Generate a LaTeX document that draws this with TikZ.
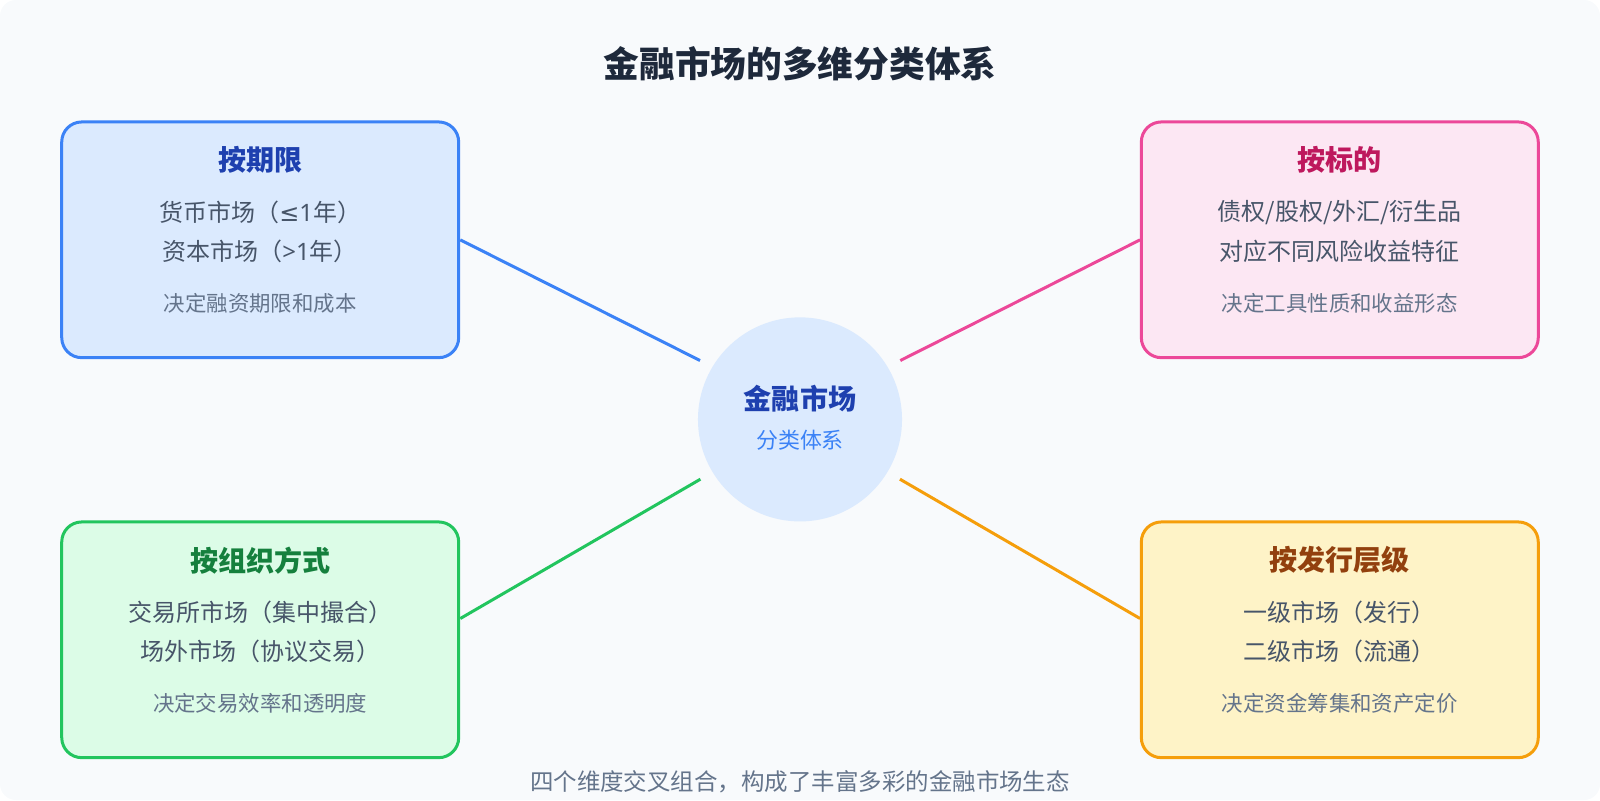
\documentclass[tikz,border=0pt]{standalone}
\usepackage{fontspec}
\setmainfont{Noto Sans CJK SC}
\newfontfamily\latinfont{Noto Sans}
\newfontfamily\symfont{DejaVu Sans}
\definecolor{bgc}{HTML}{F8FAFC}
\definecolor{ink}{HTML}{1E293B}
\definecolor{txt}{HTML}{475569}
\definecolor{muted}{HTML}{64748B}
\definecolor{blueline}{HTML}{3B82F6}
\definecolor{bluefill}{HTML}{DBEAFE}
\definecolor{bluehead}{HTML}{1E40AF}
\definecolor{pinkline}{HTML}{EC4899}
\definecolor{pinkfill}{HTML}{FCE7F3}
\definecolor{pinkhead}{HTML}{BE185D}
\definecolor{greenline}{HTML}{22C55E}
\definecolor{greenfill}{HTML}{DCFCE7}
\definecolor{greenhead}{HTML}{15803D}
\definecolor{orangeline}{HTML}{F59E0B}
\definecolor{orangefill}{HTML}{FEF3C7}
\definecolor{orangehead}{HTML}{92400E}
\begin{document}
\begin{tikzpicture}[x=1pt,y=-1pt,scale=1.0204,transform shape,
    card/.style={draw,line width=3pt,rounded corners=20pt,
      minimum width=389pt,minimum height=231pt,inner sep=0pt},
    head/.style={font=\fontsize{27.5}{31}\selectfont\bfseries},
    item/.style={font=\fontsize{23.5}{27}\selectfont,text=txt},
    note/.style={font=\fontsize{21}{24}\selectfont,text=muted},
    link/.style={line width=3pt,shorten >=14pt}]
  \useasboundingbox (0,0) rectangle (1568,784);
  \fill[bgc,rounded corners=16pt] (0,0) rectangle (1568,784);
  \draw
    (784,62) node (title)[font=\fontsize{35}{39}\selectfont\bfseries,text=ink]{金融市场的多维分类体系}
    (784,411) node (hub)[circle,fill=bluefill,minimum size=200pt,inner sep=0pt]{}
    (255,235) node (tl)[card,draw=blueline,fill=bluefill]{}
    (1313,235) node (tr)[card,draw=pinkline,fill=pinkfill]{}
    (255,627) node (bl)[card,draw=greenline,fill=greenfill]{}
    (1313,627) node (br)[card,draw=orangeline,fill=orangefill]{};
  \draw
    (784,391) node (hubhead)[head,text=bluehead]{金融市场}
    (784,431) node (hubsub)[font=\fontsize{21.5}{25}\selectfont,text=blueline]{分类体系}
    (255,157) node (tlhead)[head,text=bluehead]{按期限}
    (255,208) node (tl1)[item]{货币市场（{\symfont ≤}{\latinfont 1}年）}
    (255,246) node (tl2)[item]{资本市场（{\latinfont >1}年）}
    (255,297) node (tlnote)[note]{决定融资期限和成本}
    (1313,157) node (trhead)[head,text=pinkhead]{按标的}
    (1313,208) node (tr1)[item]{债权/股权/外汇/衍生品}
    (1313,246) node (tr2)[item]{对应不同风险收益特征}
    (1313,297) node (trnote)[note]{决定工具性质和收益形态}
    (255,549) node (blhead)[head,text=greenhead]{按组织方式}
    (255,600) node (bl1)[item]{交易所市场（集中撮合）}
    (255,638) node (bl2)[item]{场外市场（协议交易）}
    (255,689) node (blnote)[note]{决定交易效率和透明度}
    (1313,549) node (brhead)[head,text=orangehead]{按发行层级}
    (1313,600) node (br1)[item]{一级市场（发行）}
    (1313,638) node (br2)[item]{二级市场（流通）}
    (1313,689) node (brnote)[note]{决定资金筹集和资产定价}
    (784,766) node (foot)[font=\fontsize{23}{26}\selectfont,text=muted]{四个维度交叉组合，构成了丰富多彩的金融市场生态};
  \begin{scope}[link]
    \draw[blueline] (tl.east) -- (hub.149);
    \draw[pinkline] (tr.west) -- (hub.31);
    \draw[greenline] ([yshift=21pt]bl.east) -- (hub.211);
    \draw[orangeline] ([yshift=21pt]br.west) -- (hub.329);
  \end{scope}
\end{tikzpicture}
\end{document}
